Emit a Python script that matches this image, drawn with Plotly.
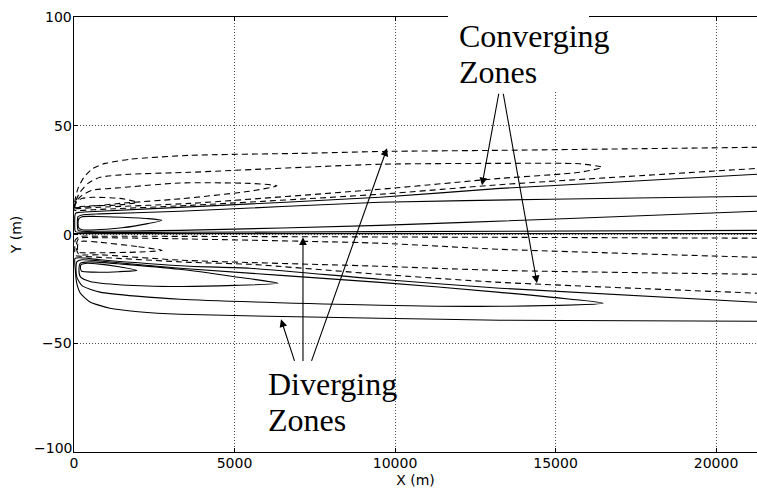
import plotly.graph_objects as go

# ---- contour lines (x in m, y in m) ----
# negative contours above the axis (dashed)
neg_top1_x = [21300, 13270, 9690, 7040, 3610, 1740, 970, 590, 310, 125, 30, 0, 40, 600, 3610, 9530, 13270, 21300]
neg_top1_y = [40.1, 38.7, 38.2, 37.3, 36.4, 34.6, 32.7, 30.4, 26.3, 21.2, 15.7, 11.4, 11.0, 11.4, 13.4, 18.5, 22.9, 30.4]

neg_top2_x = [0, 62, 187, 436, 810, 1740, 3610, 9530, 13270, 15760, 16450, 15760, 13270, 9530, 3610, 810, 60, 0]
neg_top2_y = [11.6, 15.7, 19.4, 23.5, 26.3, 27.7, 28.6, 32.3, 32.7, 32.5, 30.9, 28.6, 25.8, 20.8, 14.3, 12.5, 11.8, 11.6]

neg_top3_x = [0, 93, 249, 561, 1430, 3300, 5480, 6320, 5480, 3300, 1430, 300, 0]
neg_top3_y = [12.0, 15.7, 18.0, 20.3, 21.5, 23.7, 23.5, 22.4, 19.9, 16.4, 14.3, 12.6, 12.2]

neg_top4_x = [0, 93, 249, 590, 1430, 1960, 1430, 590, 200, 0]
neg_top4_y = [12.5, 15.3, 16.6, 17.1, 16.6, 14.8, 13.6, 13.2, 12.9, 12.7]

# positive contours above the axis (solid)
pos_top1_x = [21300, 14830, 13270, 9530, 3610, 810, 187, 62, 31, 31, 62, 187, 3000, 9530, 21300]
pos_top1_y = [27.7, 22.4, 21.2, 17.1, 12.7, 10.7, 10.2, 9.9, 9.0, 1.8, 1.2, 1.0, 1.0, 1.3, 1.9]

pos_top2_x = [21300, 14830, 9530, 3300, 810, 250, 125, 105, 125, 250, 810, 3300, 9530, 14830, 21300]
pos_top2_y = [17.6, 16.2, 14.8, 10.7, 9.5, 9.0, 8.2, 5.0, 2.0, 1.5, 1.5, 1.9, 4.2, 7.0, 10.7]

pos_top3_x = [2740, 2300, 1500, 700, 250, 150, 125, 150, 250, 700, 1500, 2300, 2740]
pos_top3_y = [6.5, 7.3, 7.9, 8.3, 8.2, 7.2, 5.2, 3.0, 2.2, 2.2, 3.1, 5.0, 6.5]

zero_x = [0, 21300]
zero_y = [0.4, 0.4]

# negative contours below the axis (dashed)
neg_bot1_x = [21300, 13270, 810, 200, 40, 25, 40, 200, 810, 3610, 5480, 9530, 13270, 21300]
neg_bot1_y = [-1.7, -1.3, -0.8, -0.9, -2.5, -6.0, -9.6, -10.0, -10.5, -12.8, -13.7, -18.3, -22.0, -27.0]

neg_bot2_x = [21300, 13270, 9530, 3300, 810, 150, 62, 150, 810, 3300, 9530, 13270, 21300]
neg_bot2_y = [-10.5, -6.8, -4.0, -2.0, -1.5, -1.8, -5.5, -9.1, -9.3, -11.8, -14.6, -16.5, -18.3]

neg_bot3_x = [2740, 1960, 810, 250, 125, 110, 125, 250, 810, 1960, 2740]
neg_bot3_y = [-7.3, -5.5, -3.6, -3.1, -4.2, -6.0, -8.0, -8.4, -8.4, -8.1, -7.3]

# positive contours below the axis (solid)
pos_bot1_x = [21300, 13270, 9530, 5480, 3610, 810, 187, 31, 40, 80, 200, 500, 1120, 2000, 3300, 9530, 13270, 21300]
pos_bot1_y = [-31.2, -24.7, -20.6, -15.5, -14.6, -11.6, -10.7, -11.0, -16.0, -22.0, -27.0, -31.0, -33.9, -35.5, -36.7, -38.5, -39.4, -39.9]

pos_bot2_x = [16480, 13270, 9530, 3300, 810, 250, 93, 62, 93, 250, 810, 3300, 9530, 13270, 16480]
pos_bot2_y = [-31.6, -26.6, -22.0, -15.5, -12.2, -11.6, -12.5, -16.0, -19.8, -23.5, -26.5, -29.8, -32.5, -33.0, -31.6]

pos_bot3_x = [6355, 5000, 3300, 1500, 500, 200, 155, 200, 500, 1500, 3300, 5000, 6355]
pos_bot3_y = [-22.4, -19.4, -16.0, -13.6, -12.6, -13.2, -16.0, -19.5, -21.6, -23.2, -23.9, -23.4, -22.4]

pos_bot4_x = [1960, 1400, 800, 350, 220, 200, 240, 600, 1400, 1960]
pos_bot4_y = [-16.5, -14.8, -13.6, -13.3, -13.9, -15.5, -16.9, -17.3, -17.1, -16.5]

x_ticks = [0, 5000, 10000, 15000, 20000]
x_tick_labels = ["0", "5000", "10000", "15000", "20000"]
y_ticks = [-100, -50, 0, 50, 100]
y_tick_labels = ["\u2212100", "\u221250", "0", "50", "100"]

fig = go.Figure()

dashed = [(neg_top1_x, neg_top1_y), (neg_top2_x, neg_top2_y), (neg_top3_x, neg_top3_y),
          (neg_top4_x, neg_top4_y), (neg_bot1_x, neg_bot1_y), (neg_bot2_x, neg_bot2_y),
          (neg_bot3_x, neg_bot3_y)]
solid = [(pos_top1_x, pos_top1_y), (pos_top2_x, pos_top2_y), (pos_top3_x, pos_top3_y),
         (zero_x, zero_y), (pos_bot1_x, pos_bot1_y), (pos_bot2_x, pos_bot2_y),
         (pos_bot3_x, pos_bot3_y), (pos_bot4_x, pos_bot4_y)]

for xs, ys in dashed:
    fig.add_trace(go.Scatter(x=xs, y=ys, mode="lines", hoverinfo="skip",
                             line=dict(color="black", width=1.1, dash="6px,4px",
                                       shape="spline", smoothing=0.6)))
for xs, ys in solid:
    fig.add_trace(go.Scatter(x=xs, y=ys, mode="lines", hoverinfo="skip",
                             line=dict(color="black", width=1.1,
                                       shape="spline", smoothing=0.6)))

# arrows pointing at the zones
arrows = [
    ((12709, 22.6), (13239, 65.4)),
    ((14422, -22.4), (13364, 65.4)),
    ((6448, -39.0), (6884, -58.8)),
    ((7133, -1.3), (7133, -58.8)),
    ((9750, 39.6), (7383, -58.8)),
]
for (hx, hy), (tx, ty) in arrows:
    fig.add_annotation(x=hx, y=hy, ax=tx, ay=ty, xref="x", yref="y", axref="x", ayref="y",
                       text="", showarrow=True, arrowhead=2, arrowsize=1.4,
                       arrowwidth=1.1, arrowcolor="black", standoff=0)

label_font = dict(family="Liberation Serif, Times New Roman, serif", size=32, color="black")
for txt, xp, yp in [("Converging", 0.5608, 0.957), ("Zones", 0.5608, 0.874),
                    ("Diverging", 0.2811, 0.156), ("Zones", 0.2811, 0.0737)]:
    fig.add_annotation(x=xp, y=yp, xref="paper", yref="paper", text=txt, showarrow=False,
                       xanchor="left", yanchor="middle", font=label_font)

tick_font = dict(family="DejaVu Sans, sans-serif", size=14, color="black")

# y tick labels placed right against the left spine
for val, lab in zip(y_ticks, y_tick_labels):
    fig.add_annotation(x=0, y=val, xref="paper", yref="y", text=lab, showarrow=False,
                       xanchor="right", yanchor="middle", xshift=-1,
                       yshift=4 if val == y_ticks[0] else 0, font=tick_font, borderpad=0)

# white box behind the upper label
fig.add_shape(type="rect", xref="paper", yref="paper", x0=0.5476, x1=0.754, y0=0.8276, y1=1.05,
              fillcolor="white", line=dict(width=0), layer="above")

grid_style = dict(showgrid=True, gridcolor="rgba(0,0,0,0.7)", griddash="1px,2px", gridwidth=1,
                  zeroline=False, showline=True, linecolor="black", linewidth=1,
                  ticks="inside", ticklen=4, tickcolor="black", tickfont=tick_font)
fig.update_layout(
    width=757, height=492,
    margin=dict(l=74, r=0, t=17, b=40),
    paper_bgcolor="white", plot_bgcolor="white",
    showlegend=False,
    xaxis=dict(range=[0, 21276], tickvals=x_ticks, ticktext=x_tick_labels, mirror="ticks",
               ticklabelstandoff=-2, automargin=False,
               title=dict(text="X (m)", font=tick_font, standoff=5), **grid_style),
    yaxis=dict(range=[-100, 100], tickvals=y_ticks, showticklabels=False, mirror=False,
               automargin=False,
               title=dict(text="Y (m)", font=tick_font, standoff=48), **grid_style),
)

fig.write_html("out.html")
